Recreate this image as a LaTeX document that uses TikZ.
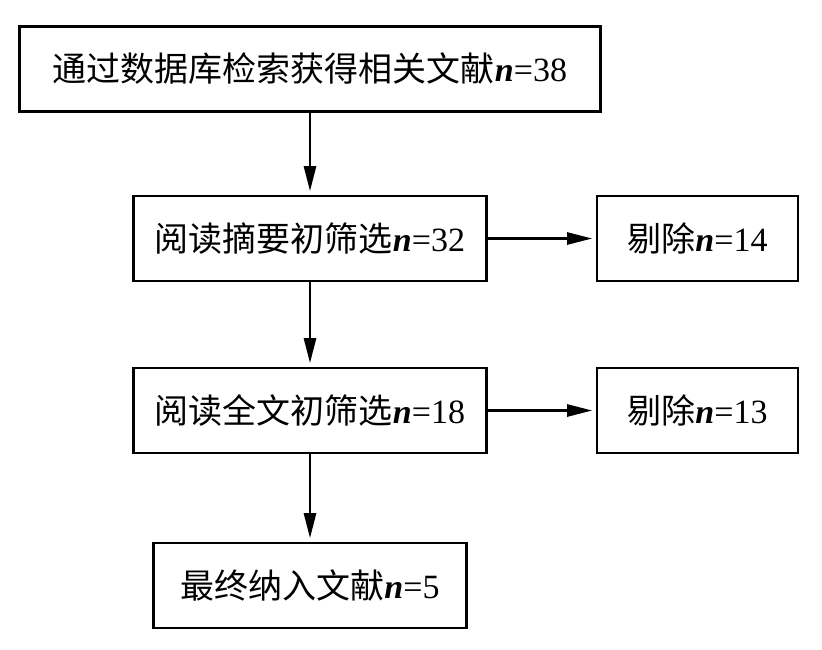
\documentclass[tikz,border=0pt]{standalone}
\usepackage{fontspec}
\setmainfont{Liberation Serif}
\newfontfamily\cjk{Noto Sans CJK SC}
\usetikzlibrary{arrows.meta}

\begin{document}
\begin{tikzpicture}[x=0.5pt,y=-0.5pt,
	box/.style={draw, line width=1.2pt, inner sep=0pt, minimum height=42.5pt, font=\fontsize{17}{20}\selectfont},
	arr/.style={line width=1.3pt, shorten >=1.8pt, -{Triangle[length=12.5pt,width=6pt]}}]
	\useasboundingbox (0,0) rectangle (822,649);

	\node[box, minimum width=290.5pt] (1) at (310,69) {{\cjk 通过数据库检索获得相关文献}\textbf{\textit{n}}=38};
	\node[box, minimum width=176.5pt] (2) at (310,238.5) {{\cjk 阅读摘要初筛选}\textbf{\textit{n}}=32};
	\node[box, minimum width=100.5pt] (3) at (697.5,238.5) {{\cjk 剔除}\textbf{\textit{n}}=14};
	\node[box, minimum width=176.5pt] (4) at (310,410.5) {{\cjk 阅读全文初筛选}\textbf{\textit{n}}=18};
	\node[box, minimum width=100.5pt] (5) at (697.5,410.5) {{\cjk 剔除}\textbf{\textit{n}}=13};
	\node[box, minimum width=156.5pt] (6) at (310,585.5) {{\cjk 最终纳入文献}\textbf{\textit{n}}=5};

	\path [arr] (1) edge (2);
	\path [arr] (2) edge (3);
	\path [arr] (2) edge (4);
	\path [arr] (4) edge (5);
	\path [arr] (4) edge (6);
\end{tikzpicture}
\end{document}
